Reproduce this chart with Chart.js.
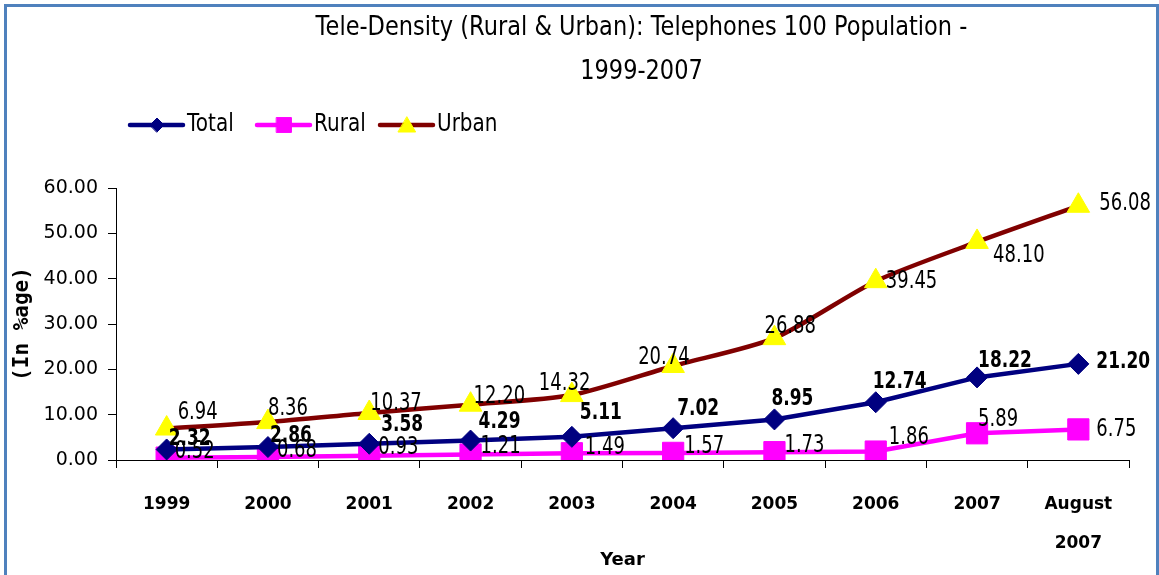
<!DOCTYPE html>
<html>
<head>
<meta charset="utf-8">
<title>Tele-Density (Rural & Urban)</title>
<script src="https://cdn.jsdelivr.net/npm/chart.js@4.4.1/dist/chart.umd.min.js"></script>
<style>
    html, body { margin: 0; padding: 0; background: #ffffff; }
    #wrap { position: relative; width: 1159px; height: 575px; }
</style>
</head>
<body>
<div id="wrap"><canvas id="teleChart"></canvas></div>
<script>
// Tele-density data, telephones per 100 population
const years = ['1999', '2000', '2001', '2002', '2003', '2004', '2005', '2006', '2007', ['August', '2007']];
const totalDensity = [2.32, 2.86, 3.58, 4.29, 5.11, 7.02, 8.95, 12.74, 18.22, 21.20];
const ruralDensity = [0.52, 0.68, 0.93, 1.21, 1.49, 1.57, 1.73, 1.86, 5.89, 6.75];
const urbanDensity = [6.94, 8.36, 10.37, 12.20, 14.32, 20.74, 26.88, 39.45, 48.10, 56.08];
const yMin = 0;
const yMax = 60;
const yStep = 10;

const titleLines = ['Tele-Density (Rural & Urban): Telephones 100 Population -', '1999-2007'];

// where each value label sits relative to its point (dx, dy in px)
const labelShift = {
    total: [[2, -10], [2, -11], [12, -19], [8, -19], [8, -24], [4, -19], [-3, -20], [-3, -20], [1, -16], [18, -2]],
    rural: [[8, -6], [9, -6], [9, -8], [10, -8], [13, -6], [11, -6], [10, -6], [13, -14], [1, -14], [18, 0]],
    urban: [[11, -16], [0, -13], [1, -9], [3, -8], [-33, -11], [-35, -8], [-10, -11], [10, 1], [16, 14], [21, -2]]
};

const NAVY = '#000080';
const PINK = '#FF00FF';
const MAROON = '#800000';
const YELLOW = '#FFFF00';

// draws text squashed/stretched vertically, the source image is a bit tall
function tallText(ctx, text, x, y, font, align, sy, maxW) {
    ctx.save();
    ctx.font = font;
    ctx.fillStyle = '#000000';
    ctx.textAlign = align;
    ctx.textBaseline = 'middle';
    ctx.translate(x, y);
    ctx.scale(1, sy);
    if (maxW) {
        ctx.fillText(text, 0, 0, maxW);
    } else {
        ctx.fillText(text, 0, 0);
    }
    ctx.restore();
}

const decorPlugin = {
    id: 'decor',
    beforeDraw(chart) {
        const ctx = chart.ctx;
        ctx.save();
        ctx.fillStyle = '#ffffff';
        ctx.fillRect(0, 0, chart.width, chart.height);
        // blue frame around the picture
        ctx.strokeStyle = '#4F81BD';
        ctx.lineWidth = 3;
        ctx.strokeRect(5.5, 5.5, 1152, 620);
        ctx.restore();
    },
    afterDraw(chart) {
        const ctx = chart.ctx;
        const area = chart.chartArea;
        const cx = (area.left + area.right) / 2 + 19;

        // title
        tallText(ctx, titleLines[0], cx, 28, '22.5px "DejaVu Sans"', 'center', 1.2, 660);
        tallText(ctx, titleLines[1], cx, 72, '22.5px "DejaVu Sans"', 'center', 1.2);

        // legend: line + marker + name
        const legendY = 125;
        const items = [
            { name: 'Total', x: 130, line: NAVY, fill: NAVY, style: 'rectRot', r: 7 },
            { name: 'Rural', x: 257, line: PINK, fill: PINK, style: 'rect', r: 10.5 },
            { name: 'Urban', x: 380, line: MAROON, fill: YELLOW, style: 'triangle', r: 10 }
        ];
        items.forEach(it => {
            ctx.save();
            ctx.strokeStyle = it.line;
            ctx.lineWidth = 4.5;
            ctx.lineCap = 'round';
            ctx.beginPath();
            ctx.moveTo(it.x, legendY);
            ctx.lineTo(it.x + 53, legendY);
            ctx.stroke();
            ctx.fillStyle = it.fill;
            ctx.strokeStyle = it.fill;
            ctx.lineWidth = 1;
            Chart.helpers.drawPoint(ctx, { pointStyle: it.style, radius: it.r, rotation: 0, borderWidth: 1 }, it.x + 27, legendY + (it.style === 'triangle' ? 2 : 0));
            ctx.restore();
            tallText(ctx, it.name, it.x + 57, legendY, '20px "DejaVu Sans"', 'left', 1.2);
        });

        // value labels
        const sets = [
            { key: 'total', idx: 0, font: 'bold 17px "DejaVu Sans"' },
            { key: 'rural', idx: 1, font: '18px "DejaVu Sans"' },
            { key: 'urban', idx: 2, font: '18px "DejaVu Sans"' }
        ];
        sets.forEach(s => {
            const meta = chart.getDatasetMeta(s.idx);
            const vals = chart.data.datasets[s.idx].data;
            meta.data.forEach((pt, i) => {
                const sh = labelShift[s.key][i];
                tallText(ctx, vals[i].toFixed(2), pt.x + sh[0], pt.y + sh[1], s.font, 'left', 1.35);
            });
        });
    }
};

const ctx = document.getElementById('teleChart');
new Chart(ctx, {
    type: 'line',
    data: {
        labels: years,
        datasets: [
            {
                label: 'Total',
                data: totalDensity,
                borderColor: NAVY,
                backgroundColor: NAVY,
                borderWidth: 4.5,
                pointStyle: 'rectRot',
                pointRadius: 10.5,
                pointBorderWidth: 1,
                pointBackgroundColor: NAVY,
                pointBorderColor: NAVY,
                tension: 0
            },
            {
                label: 'Rural',
                data: ruralDensity,
                borderColor: PINK,
                backgroundColor: PINK,
                borderWidth: 4.5,
                pointStyle: 'rect',
                pointRadius: 15,
                pointBorderWidth: 1,
                pointBackgroundColor: PINK,
                pointBorderColor: PINK,
                tension: 0
            },
            {
                label: 'Urban',
                data: urbanDensity,
                borderColor: MAROON,
                backgroundColor: YELLOW,
                borderWidth: 4.5,
                pointStyle: 'triangle',
                pointRadius: 13,
                pointBorderWidth: 1,
                pointBackgroundColor: YELLOW,
                pointBorderColor: YELLOW,
                tension: 0.25
            }
        ]
    },
    options: {
        responsive: true,
        maintainAspectRatio: false,
        animation: false,
        layout: {
            padding: { top: 188, right: 30, bottom: 0, left: 0 }
        },
        plugins: {
            legend: { display: false },
            title: { display: false },
            tooltip: { enabled: false }
        },
        scales: {
            x: {
                type: 'category',
                offset: true,
                afterFit: (scale) => { scale.height = 115; },
                grid: {
                    display: true,
                    offset: true,
                    drawOnChartArea: false,
                    drawTicks: true,
                    tickLength: 8,
                    color: '#000000'
                },
                border: { display: true, color: '#000000', width: 1 },
                ticks: {
                    color: '#000000',
                    maxRotation: 0,
                    autoSkip: false,
                    padding: 17,
                    font: { family: '"DejaVu Sans"', size: 17, weight: 'bold', lineHeight: 2.3 }
                },
                title: {
                    display: true,
                    text: 'Year',
                    color: '#000000',
                    padding: { top: 0, bottom: 4 },
                    font: { family: '"DejaVu Sans"', size: 18, weight: 'bold' }
                }
            },
            y: {
                min: yMin,
                max: yMax,
                afterFit: (scale) => { scale.width = 116; },
                grid: {
                    display: true,
                    drawOnChartArea: false,
                    drawTicks: true,
                    tickLength: 8,
                    color: '#000000'
                },
                border: { display: true, color: '#000000', width: 1 },
                ticks: {
                    stepSize: yStep,
                    color: '#000000',
                    padding: 10,
                    font: { family: '"DejaVu Sans"', size: 19 },
                    callback: (v) => Number(v).toFixed(2)
                },
                title: {
                    display: true,
                    text: '(In %age)',
                    color: '#000000',
                    padding: { top: 10, bottom: 0 },
                    font: { family: '"DejaVu Sans Mono"', size: 21, weight: 'bold' }
                }
            }
        }
    },
    plugins: [decorPlugin]
});
</script>
</body>
</html>
